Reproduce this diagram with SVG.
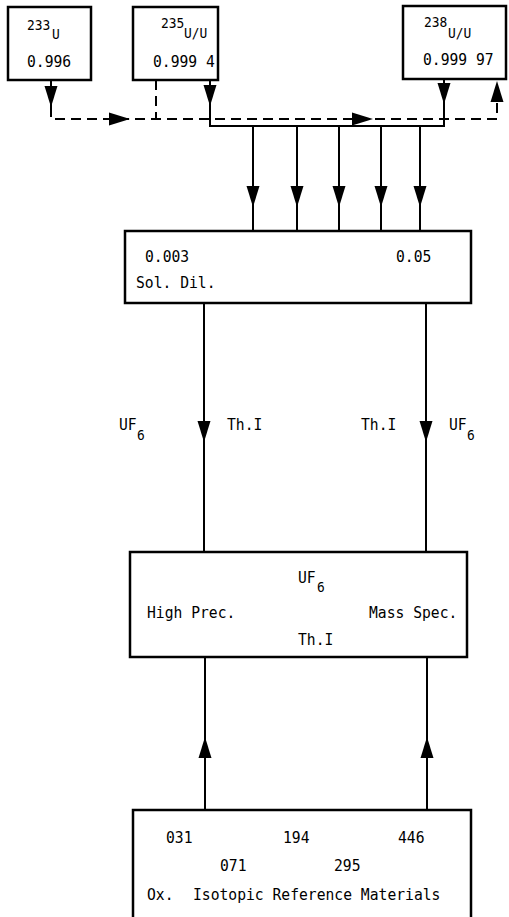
<svg xmlns="http://www.w3.org/2000/svg" width="509" height="917" viewBox="0 0 509 917">
<style>
.box{fill:#fff;stroke:#000;stroke-width:2.5}
.ln{fill:none;stroke:#000;stroke-width:2}
.dl{fill:none;stroke:#000;stroke-width:2;stroke-dasharray:10 6}
.ah{fill:#000}
text{font-family:"DejaVu Sans Mono","Liberation Mono",monospace;font-size:16.5px;fill:#000;transform:scaleX(0.89);transform-box:fill-box;transform-origin:0 0}
.s{font-size:14.5px}
</style>
<defs>
<path id="ah" d="M-6.5,-21 L6.5,-21 L0,0 Z"/>
</defs>
<rect width="509" height="917" fill="#fff"/>
<g id="connectors">
<path class="ln" d="M51,80 V107"/>
<path class="dl" d="M51,107 V119 H497 V97"/>
<path class="dl" d="M156,80 V119"/>
<path class="ln" d="M210,80 V126 H444 V79"/>
<path class="ln" d="M253,126 V231 M297,126 V231 M339,126 V231 M381,126 V231 M420,126 V231"/>
<path class="ln" d="M204,303 V552 M426,303 V552"/>
<path class="ln" d="M205,657 V810 M427,657 V810"/>
<use href="#ah" class="ah" transform="translate(51,107)"/>
<use href="#ah" class="ah" transform="translate(130,119) rotate(-90)"/>
<use href="#ah" class="ah" transform="translate(373,119) rotate(-90)"/>
<use href="#ah" class="ah" transform="translate(497,81) rotate(180)"/>
<use href="#ah" class="ah" transform="translate(210,106)"/>
<use href="#ah" class="ah" transform="translate(444,104)"/>
<use href="#ah" class="ah" transform="translate(253,207)"/>
<use href="#ah" class="ah" transform="translate(297,207)"/>
<use href="#ah" class="ah" transform="translate(339,207)"/>
<use href="#ah" class="ah" transform="translate(381,207)"/>
<use href="#ah" class="ah" transform="translate(420,207)"/>
<use href="#ah" class="ah" transform="translate(204,442)"/>
<use href="#ah" class="ah" transform="translate(426,442)"/>
<use href="#ah" class="ah" transform="translate(205,737) rotate(180)"/>
<use href="#ah" class="ah" transform="translate(427,737) rotate(180)"/>
<text x="119" y="430">UF</text><text x="137" y="440" class="s">6</text>
<text x="227" y="430">Th.I</text>
<text x="361" y="430">Th.I</text>
<text x="449" y="430">UF</text><text x="467" y="440" class="s">6</text>
</g>
<g id="u233">
<rect class="box" x="8" y="7" width="83" height="73"/>
<text x="27" y="30" class="s">233</text><text x="52" y="39" class="s">U</text>
<text x="27" y="67">0.996</text>
</g>
<g id="u235">
<rect class="box" x="133" y="7" width="85" height="73"/>
<text x="161" y="28" class="s">235</text><text x="184" y="38" class="s">U/U</text>
<text x="153" y="67">0.999 4</text>
</g>
<g id="u238">
<rect class="box" x="403" y="6" width="103" height="73"/>
<text x="424" y="27" class="s">238</text><text x="448" y="38" class="s">U/U</text>
<text x="423" y="65">0.999 97</text>
</g>
<g id="soldil">
<rect class="box" x="125" y="231" width="346" height="72"/>
<text x="145" y="262">0.003</text>
<text x="396" y="262">0.05</text>
<text x="136" y="288">Sol. Dil.</text>
</g>
<g id="massspec">
<rect class="box" x="130" y="552" width="337" height="105"/>
<text x="298" y="583">UF</text><text x="317" y="592" class="s">6</text>
<text x="147" y="618">High Prec.</text>
<text x="369" y="618">Mass Spec.</text>
<text x="298" y="645">Th.I</text>
</g>
<g id="refmat">
<rect class="box" x="133" y="810" width="338" height="115"/>
<text x="166" y="843">031</text>
<text x="283" y="843">194</text>
<text x="398" y="843">446</text>
<text x="220" y="871">071</text>
<text x="334" y="871">295</text>
<text x="147" y="900">Ox.</text>
<text x="193" y="900">Isotopic Reference Materials</text>
</g>
</svg>
